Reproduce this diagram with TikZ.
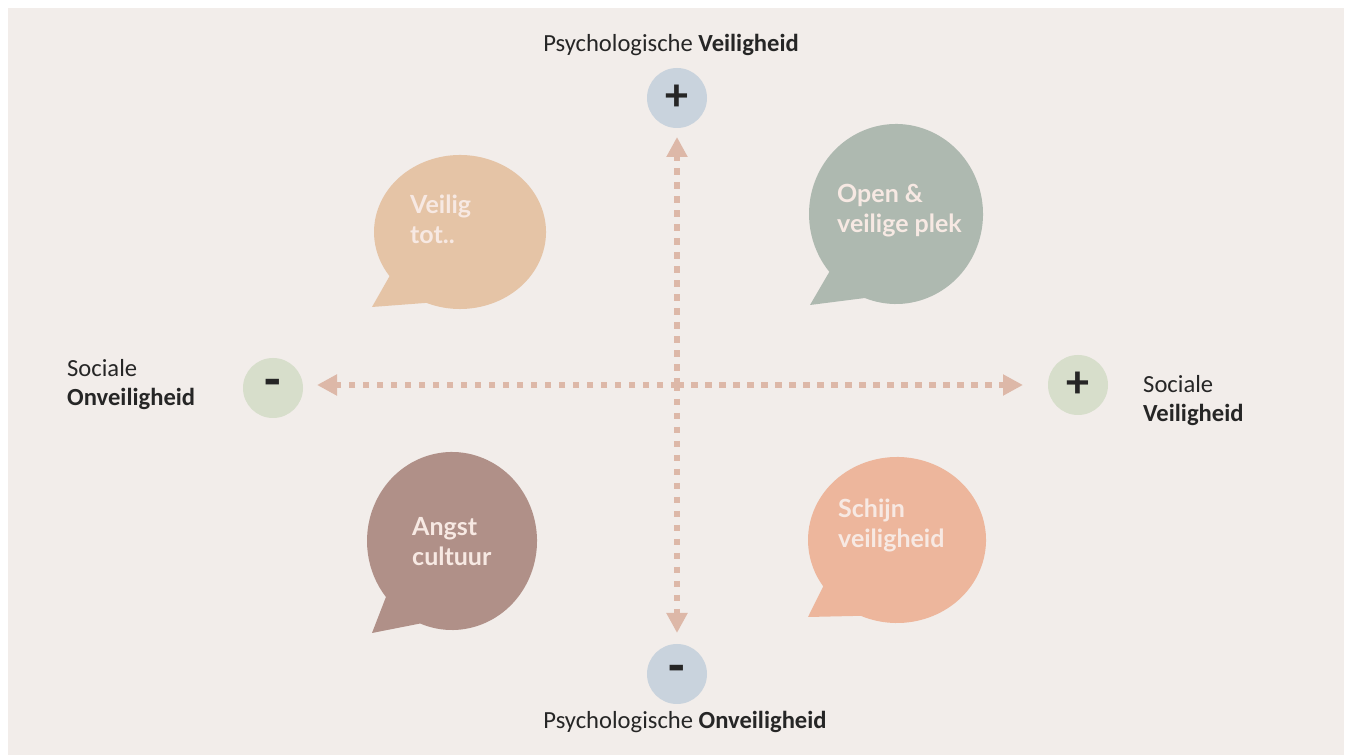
\documentclass[tikz,border=0pt]{standalone}
\usepackage{fontspec}
\setmainfont{Carlito}
\newfontfamily\bubblefont{Lato}
\usetikzlibrary{arrows.meta}
\definecolor{bgc}{HTML}{F2EDEA}
\definecolor{arrowc}{HTML}{DDB8A8}
\definecolor{circblue}{HTML}{C9D3DD}
\definecolor{circgreen}{HTML}{D7DECB}
\definecolor{bubtan}{HTML}{E5C4A6}
\definecolor{bubsage}{HTML}{AEB9B0}
\definecolor{bubmauve}{HTML}{B09088}
\definecolor{bubsalmon}{HTML}{EDB69C}
\definecolor{bubtext}{HTML}{F7E9E3}
\definecolor{labc}{HTML}{262626}
\tikzset{
  axisarrow/.style={draw=arrowc, line width=6.5pt, dash pattern=on 6.5pt off 7.5pt,
    -{Triangle[length=20pt,width=20pt,fill=arrowc]}},
  polecirc/.style={circle, minimum size=60pt, inner sep=0pt, text=labc},
  btext/.style={font=\bubblefont\bfseries\fontsize{25}{30.5}\selectfont, text=bubtext, align=left, inner sep=0pt},
  lab/.style={font=\fontsize{24.6}{29}\selectfont, text=labc, align=left, inner sep=0pt},
}
\begin{document}
\begin{tikzpicture}[x=1pt,y=1pt]
\useasboundingbox (0,0) rectangle (1350,755);
\fill[bgc] (8,0) rectangle (1344,747);

% speech bubbles
\fill[bubtan] (372,448) -- ([shift={(247:86 and 77)}]460,523)
  arc[start angle=247, end angle=575, x radius=86, y radius=77] -- cycle;
\fill[bubsage] (810,450) -- ([shift={(249:87 and 90)}]896,541)
  arc[start angle=249, end angle=580, x radius=87, y radius=90] -- cycle;
\fill[bubmauve] (372,122) -- ([shift={(248:85 and 89)}]452,214)
  arc[start angle=248, end angle=579, x radius=85, y radius=89] -- cycle;
\fill[bubsalmon] (808,138) -- ([shift={(246:89 and 83)}]897,215)
  arc[start angle=246, end angle=574, x radius=89, y radius=83] -- cycle;

\node[btext, anchor=base west] (tVeilig) at (410,511) {Veilig\\tot..};
\node[btext, anchor=base west] (tOpen) at (837,522) {Open \&\\veilige plek};
\node[btext, anchor=base west] (tAngst) at (412,189) {Angst\\cultuur};
\node[btext, anchor=base west] (tSchijn) at (838,207) {Schijn\\veiligheid};

% pole circles
\node[polecirc, fill=circblue, font=\bfseries\fontsize{46}{46}\selectfont] (top) at (677,657) {+};
\node[polecirc, fill=circblue, font=\bfseries\fontsize{54}{54}\selectfont] (bot) at (677,81) {-};
\node[polecirc, fill=circgreen, font=\bfseries\fontsize{54}{54}\selectfont] (lft) at (273,367) {-};
\node[polecirc, fill=circgreen, font=\bfseries\fontsize{46}{46}\selectfont] (rgt) at (1078,370) {+};

% arrow ends
\coordinate (cC) at (677,370);
\coordinate (hL) at (317,370);
\coordinate (hR) at (1023,370);
\coordinate (vT) at (677,618);
\coordinate (vB) at (677,122);

\draw[axisarrow] (cC) -- (hL);
\draw[axisarrow] (cC) -- (hR);
\draw[axisarrow] (cC) -- (vT);
\draw[axisarrow] (cC) -- (vB);

% labels
\node[lab, anchor=base] (ltop) at (671,703) {Psychologische \textbf{Veiligheid}};
\node[lab, anchor=base] (lbot) at (685,26) {Psychologische \textbf{Onveiligheid}};
\node[lab, anchor=base west] (lleft) at (67,349) {Sociale\\\textbf{Onveiligheid}};
\node[lab, anchor=base west] (lright) at (1143,333) {Sociale\\\textbf{Veiligheid}};
\end{tikzpicture}
\end{document}
